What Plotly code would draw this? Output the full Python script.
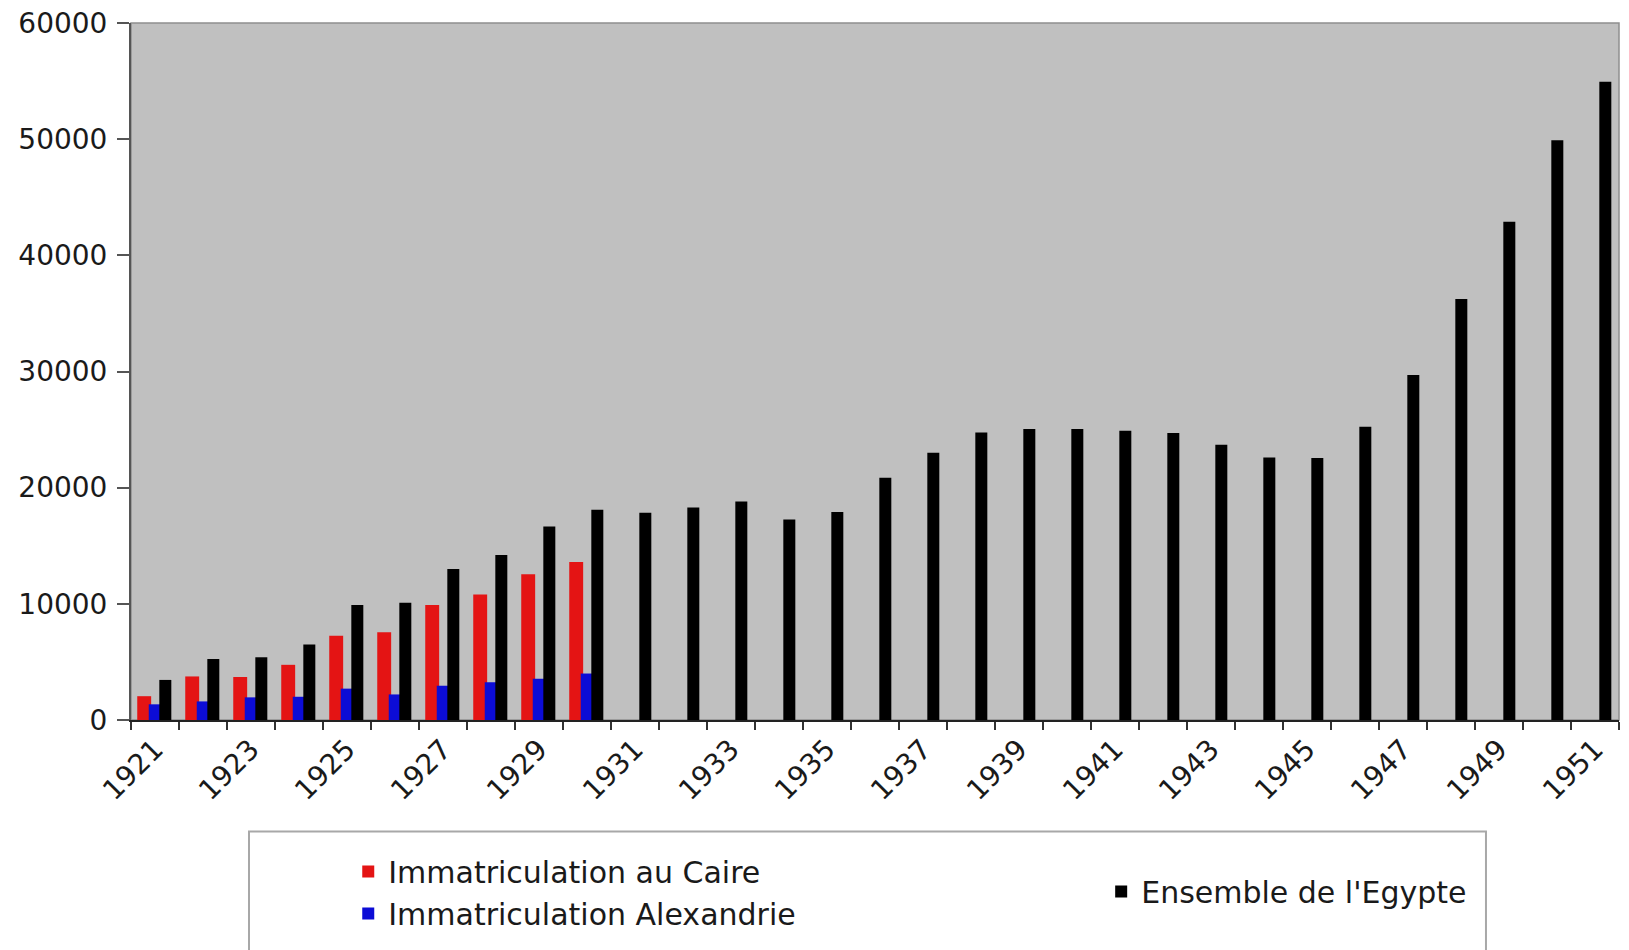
import plotly.graph_objects as go

# Immatriculations de véhicules en Égypte, 1921-1951
years = list(range(1921, 1952))
caire_years = list(range(1921, 1931))
caire = [2050, 3750, 3700, 4750, 7250, 7550, 9900, 10800, 12550, 13600]
alexandrie = [1350, 1600, 1950, 2000, 2700, 2200, 2950, 3250, 3550, 4000]
egypte = [3450, 5250, 5400, 6500, 9900, 10100, 13000, 14200, 16650, 18100,
          17850, 18300, 18800, 17250, 17900, 20850, 23000, 24750, 25050, 25050,
          24900, 24700, 23700, 22600, 22550, 25250, 29700, 36250, 42900, 49900,
          54950]

tick_years = list(range(1921, 1952, 2))
y_ticks = [0, 10000, 20000, 30000, 40000, 50000, 60000]

_RED = "#E41414"
_BLUE = "#0C0CD6"
_BLACK = "#000000"
_PLOT_BG = "#C0C0C0"
_FONT = "DejaVu Sans"
_TXT = "#1A1A1A"

fig = go.Figure()
fig.add_trace(go.Bar(
    x=caire_years, y=caire, name="Immatriculation au Caire",
    marker=dict(color=_RED, line_width=0),
    width=0.29, offset=-0.37, legend="legend",
))
fig.add_trace(go.Bar(
    x=caire_years, y=alexandrie, name="Immatriculation Alexandrie",
    marker=dict(color=_BLUE, line_width=0),
    width=0.28, offset=-0.13, legend="legend",
))
fig.add_trace(go.Bar(
    x=years, y=egypte, name="Ensemble de l'Egypte",
    marker=dict(color=_BLACK, line_width=0),
    width=0.25, offset=0.09, legend="legend2",
))

# legend frame (cut by the bottom of the picture, as in the source)
fig.add_shape(type="rect", xref="paper", yref="paper",
              x0=0.0793, x1=0.9106, y0=-0.40, y1=-0.160,
              line=dict(color="#A8A8A8", width=2), fillcolor="rgba(0,0,0,0)")
# plot frame
fig.add_shape(type="rect", xref="paper", yref="paper",
              x0=0, x1=1, y0=0, y1=1, layer="below",
              line=dict(color="#8E8E8E", width=1.5))

# page body has an 8px margin, so the figure is 8px smaller on each axis
fig.update_layout(
    width=1621, height=942,
    barmode="overlay",
    paper_bgcolor="white", plot_bgcolor=_PLOT_BG,
    margin=dict(l=123, r=10, t=15, b=228),
    font=dict(family=_FONT, color=_TXT),
    legend=dict(
        x=0.146, y=-0.180, xanchor="left", yanchor="top",
        orientation="v", bgcolor="rgba(0,0,0,0)",
        font=dict(size=30, family=_FONT, color=_TXT),
        tracegroupgap=0,
    ),
    legend2=dict(
        x=0.652, y=-0.246, xanchor="left", yanchor="middle",
        bgcolor="rgba(0,0,0,0)",
        font=dict(size=30, family=_FONT, color=_TXT),
    ),
    showlegend=True,
)
fig.update_xaxes(
    range=[1920.5, 1951.5], automargin=False,
    tickvals=tick_years, ticktext=[str(y) for y in tick_years],
    tickangle=-45, ticks="", ticklabeloverflow="allow",
    tickfont=dict(size=28, family=_FONT, color=_TXT),
    minor=dict(ticks="outside", tick0=1920.5, dtick=1, ticklen=8,
               tickcolor="#333333", tickwidth=1.5),
    showgrid=False, zeroline=False,
    showline=True, linecolor="#222222", linewidth=1.5,
)
fig.update_yaxes(
    range=[0, 60000], tickvals=y_ticks, tickformat="d", automargin=False,
    ticks="outside", ticklen=12, tickcolor="#555555", tickwidth=1.5,
    ticklabeloverflow="allow", ticklabelstandoff=4,
    tickfont=dict(size=28, family=_FONT, color=_TXT),
    showgrid=False, zeroline=False,
    showline=True, linecolor="#555555", linewidth=2,
)

fig.write_html("out.html")
